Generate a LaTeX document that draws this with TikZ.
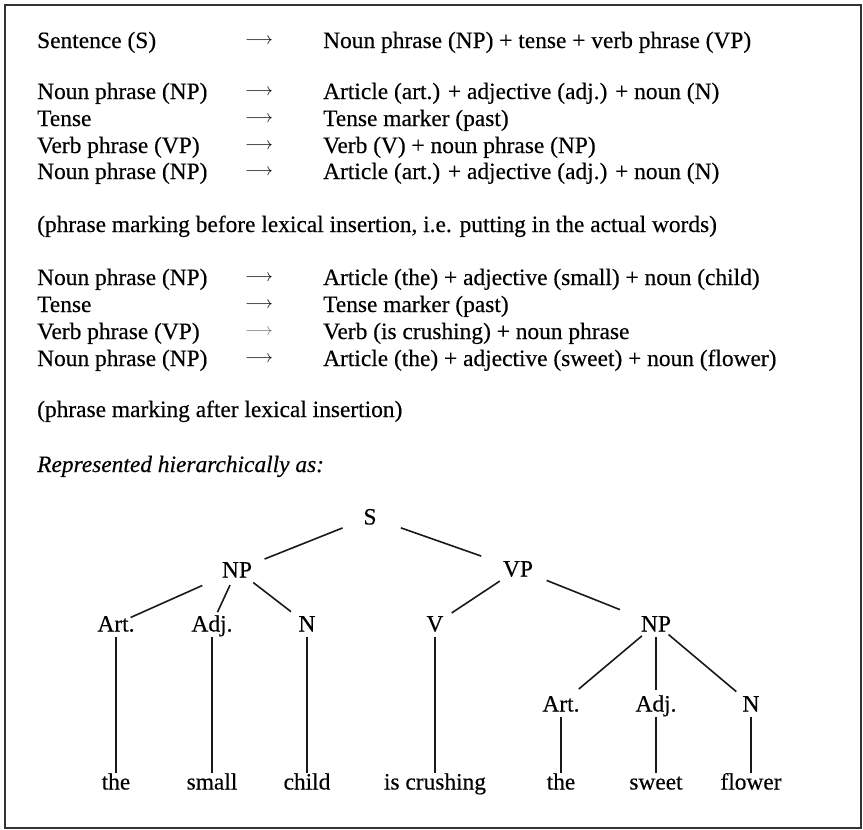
\documentclass[tikz,border=0pt]{standalone}
\usepackage{fontspec}
\setmainfont{Liberation Serif}[FakeBold=0.35]
\begin{document}
\begin{tikzpicture}[x=1pt,y=-1pt,
  every node/.style={font=\fontsize{23.4}{27}\selectfont, inner sep=0pt},
  lhs/.style={anchor=base west},
  rhs/.style={anchor=base west},
  arr/.style={anchor=base, yshift=3.75pt, font=\fontsize{17}{20}\selectfont},
  lab/.style={text height=15pt, text depth=0pt, anchor=center},
  edge/.style={line width=1.6pt, black!90},
  stem/.style={line width=1.5pt, black!90, shorten <=5pt, shorten >=1pt}
]
\useasboundingbox (0,0) rectangle (863,830);
% outer frame
\draw[line width=2.2pt, black!80] (5,5) rectangle (861,828);

% phrase-structure rules
\node[lhs] (l1) at (37,48) {Sentence (S)};
\node[arr] (a1) at (259,48) {$\longrightarrow$};
\node[rhs] (r1) at (323,48) {Noun phrase (NP) + tense + verb phrase (VP)};

\node[lhs] (l2) at (37,99) {Noun phrase (NP)};
\node[arr] (a2) at (259,99) {$\longrightarrow$};
\node[rhs] (r2) at (323,99) {Article (art.) + adjective (adj.) + noun (N)};
\node[lhs] (l3) at (37,126) {Tense};
\node[arr] (a3) at (259,126) {$\longrightarrow$};
\node[rhs] (r3) at (323,126) {Tense marker (past)};
\node[lhs] (l4) at (37,153) {Verb phrase (VP)};
\node[arr] (a4) at (259,153) {$\longrightarrow$};
\node[rhs] (r4) at (323,153) {Verb (V) + noun phrase (NP)};
\node[lhs] (l5) at (37,179) {Noun phrase (NP)};
\node[arr] (a5) at (259,179) {$\longrightarrow$};
\node[rhs] (r5) at (323,179) {Article (art.) + adjective (adj.) + noun (N)};

\node[lhs] (p1) at (37,232) {(phrase marking before lexical insertion, i.e. putting in the actual words)};

\node[lhs] (l6) at (37,285) {Noun phrase (NP)};
\node[arr] (a6) at (259,285) {$\longrightarrow$};
\node[rhs] (r6) at (323,285) {Article (the) + adjective (small) + noun (child)};
\node[lhs] (l7) at (37,312) {Tense};
\node[arr] (a7) at (259,312) {$\longrightarrow$};
\node[rhs] (r7) at (323,312) {Tense marker (past)};
\node[lhs] (l8) at (37,339) {Verb phrase (VP)};
\node[arr, text=black!55] (a8) at (259,339) {$\longrightarrow$};
\node[rhs] (r8) at (323,339) {Verb (is crushing) + noun phrase};
\node[lhs] (l9) at (37,366) {Noun phrase (NP)};
\node[arr] (a9) at (259,366) {$\longrightarrow$};
\node[rhs] (r9) at (323,366) {Article (the) + adjective (sweet) + noun (flower)};

\node[lhs] (p2) at (37,417) {(phrase marking after lexical insertion)};
\node[lhs] (p3) at (37,472) {\itshape Represented hierarchically as:};

% tree labels
\node[lab] (S)   at (370,517) {S};
\node[lab] (NP)  at (237,570) {NP};
\node[lab] (VP)  at (518,569) {VP};
\node[lab] (Art) at (116,624) {Art.};
\node[lab] (Adj) at (212,624) {Adj.};
\node[lab] (N)   at (307,624) {N};
\node[lab] (V)   at (435,624) {V};
\node[lab] (NPb) at (656,624) {NP};
\node[lab] (Artb) at (561,704) {Art.};
\node[lab] (Adjb) at (656,704) {Adj.};
\node[lab] (Nb)   at (751,704) {N};
% words
\node[lab] (w1) at (116,782) {the};
\node[lab] (w2) at (212,782) {small};
\node[lab] (w3) at (307,782) {child};
\node[lab] (w4) at (435,782) {is crushing};
\node[lab] (w5) at (561,782) {the};
\node[lab] (w6) at (656,782) {sweet};
\node[lab] (w7) at (751,782) {flower};

% branches
\draw[edge, shorten <=29.5pt, shorten >=29.7pt] (S.center) -- (NP.center);
\draw[edge, shorten <=32.7pt, shorten >=39pt] (S.center) -- (VP.center);
\draw[edge, shorten <=38pt, shorten >=16pt] (NP.center) -- (Art.center);
\draw[edge, shorten <=16.6pt, shorten >=13pt] (NP.center) -- (Adj.center);
\draw[edge, shorten <=20.5pt, shorten >=20.2pt] (NP.center) -- (N.center);
\draw[edge, shorten <=21.9pt, shorten >=20pt] (VP.center) -- (V.center);
\draw[edge, shorten <=30.9pt, shorten >=38.9pt] (VP.center) -- (NPb.center);
\draw[edge, shorten <=18.4pt, shorten >=23.3pt] (NPb.center) -- (Artb.center);
\draw[edge, shorten <=13pt, shorten >=14pt] (NPb.center) -- (Adjb.center);
\draw[edge, shorten <=16.4pt, shorten >=19.2pt] (NPb.center) -- (Nb.center);

% stems down to the words
\draw[stem] (Art.south) -- (w1.north);
\draw[stem] (Adj.south) -- (w2.north);
\draw[stem] (N.south) -- (w3.north);
\draw[stem] (V.south) -- (w4.north);
\draw[stem] (Artb.south) -- (w5.north);
\draw[stem] (Adjb.south) -- (w6.north);
\draw[stem] (Nb.south) -- (w7.north);
\end{tikzpicture}
\end{document}
